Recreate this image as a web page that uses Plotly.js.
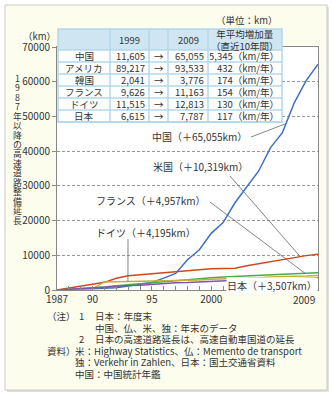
<!DOCTYPE html>
<html><head><meta charset="utf-8">
<script src="https://cdn.plot.ly/plotly-3.0.1.min.js"></script>
<style>html,body{margin:0;padding:0;background:#fff;} #chart{width:333px;height:396px;}</style>
</head><body><div id="chart"></div>
<script>
// ---------- data ----------
const years = [1987,1988,1989,1990,1991,1992,1993,1994,1995,1996,1997,1998,1999,2000,2001,2002,2003,2004,2005,2006,2007,2008,2009];
const china   = [0,147,271,522,574,652,1145,1603,2141,3422,4771,8733,11605,16314,19437,25130,29745,34288,41005,45339,53913,60302,65055];
const usa     = [0,500,1000,1500,2200,3400,4100,4400,4700,4900,5200,5600,6003,6100,6200,6300,7000,7600,8200,8900,9500,9900,10319];
const france  = [0,180,400,620,900,1250,1550,1800,2070,2450,2850,3150,3420,3560,3750,3940,4100,4250,4400,4550,4700,4850,4957];
const germany = [0,103,203,341,2337,2390,2420,2525,2572,2628,2691,2809,2897,3094,3168,3419,3426,3556,3745,3913,3976,4027,4195];
const japan   = [0,126,381,589,794,1124,1288,1397,1652,1834,2122,2175,2335,2571,2679,2916,3063,3083,3112,3151,3280,3362,3507];
const seriesNames = ['中国','米国','フランス','ドイツ','日本'];
const seriesColors = ['#3f70c3','#d2461d','#4fa84a','#c2b137','#7f53ae'];

const xTickLabels = {1987:'1987',1990:'90',1995:'95',2000:'2000',2009:'2009'};

const tableNames = ['中国','アメリカ','韓国','フランス','ドイツ','日本'];
const km1999 = [11605,89217,2041,9626,11515,6615];
const km2009 = [65055,93533,3776,11163,12813,7787];
const annualIncrease = [5345,432,174,154,130,117];
const tableHeader = ['', '1999', '', '2009', '年平均増加量<br>（直近10年間）'];

const yTitle = '1987年以降の高速道路整備延長';

// ---------- geometry helpers ----------
const PL=57, PR=318, PT=47, PB=290, TOP=29;
const fx = px => (px-PL)/(PR-PL);
const fy = py => (PB-py)/(PB-TOP);
const dX = px => 1987 + (px-PL)/(PR-PL)*22;
const dY = py => (PB-py)/(PB-PT)*70000;
const fmt = v => v.toLocaleString('en-US');
function interp(arr, yr){
  const i = Math.floor(yr-1987), f = yr-1987-i;
  return arr[i] + f*(arr[Math.min(i+1,arr.length-1)]-arr[i]);
}
const FONT = '"Noto Sans CJK JP", "Noto Sans", sans-serif';
const TXT = '#333';

const seriesData = [china, usa, france, germany, japan];
const traces = seriesData.map((d,i)=>({
  x: years, y: d, type:'scatter', mode:'lines', name: seriesNames[i],
  line:{color: seriesColors[i], width:1.5}, hoverinfo:'skip', showlegend:false
}));

const shapes = [];
const annotations = [];
// card
shapes.push({type:'rect', xref:'paper', yref:'paper', x0:fx(7), x1:fx(329), y0:fy(392), y1:fy(7), fillcolor:'#e2e2dc', line:{width:0}, layer:'below'});
shapes.push({type:'rect', xref:'paper', yref:'paper', x0:fx(5), x1:fx(327), y0:fy(390), y1:fy(5), fillcolor:'#fdfdee', line:{color:'#c9c9c0', width:1}, layer:'below'});
shapes.push({type:'rect', xref:'paper', yref:'paper', x0:0, x1:1, y0:0, y1:fy(PT), fillcolor:'#ffffff', line:{width:0}, layer:'below'});

// table
const TX0=58, TX1=282, TY0=29, TH=50, RH=12;
const TY1 = TH + RH*tableNames.length;
const colEdges=[TX0,110,149,168,208,TX1];
const BLUE='#b3d7ea';
shapes.push({type:'rect', xref:'paper', yref:'paper', x0:fx(TX0), x1:fx(TX1), y0:fy(TY1), y1:fy(TY0), fillcolor:'#ffffff', line:{width:0}, layer:'above'});
shapes.push({type:'rect', xref:'paper', yref:'paper', x0:fx(TX0), x1:fx(TX1), y0:fy(TH), y1:fy(TY0), fillcolor:'#cfe6f2', line:{width:0}, layer:'above'});
for(let k=1;k<colEdges.length-1;k++){
  shapes.push({type:'line', xref:'paper', yref:'paper', x0:fx(colEdges[k]), x1:fx(colEdges[k]), y0:fy(TY1), y1:fy(TY0), line:{color:BLUE,width:1.5}, layer:'above'});
}
for(let r=0;r<=tableNames.length;r++){
  const y = TH + RH*r;
  shapes.push({type:'line', xref:'paper', yref:'paper', x0:fx(TX0), x1:fx(TX1), y0:fy(y), y1:fy(y), line:{color:BLUE,width:1.5}, layer:'above'});
}
shapes.push({type:'rect', xref:'paper', yref:'paper', x0:fx(TX0), x1:fx(TX1), y0:fy(TY1), y1:fy(TY0), line:{color:BLUE,width:1.5}, layer:'above'});

function ann(text, px, py, xanchor, size, extra){
  annotations.push(Object.assign({text, xref:'paper', yref:'paper', x:fx(px), y:fy(py), xanchor:xanchor||'center', yanchor:'middle', showarrow:false, font:{family:FONT, size:size||9.5, color:TXT}}, extra||{}));
}
// header
ann(tableHeader[1], (colEdges[1]+colEdges[2])/2, (TY0+TH)/2, 'center', 9.5);
ann(tableHeader[3], (colEdges[3]+colEdges[4])/2, (TY0+TH)/2, 'center', 9.5);
ann(tableHeader[4], (colEdges[4]+colEdges[5])/2, (TY0+TH)/2, 'center', 9.5);
tableNames.forEach((n,r)=>{
  const yc = TH + RH*r + RH/2;
  ann(n, (colEdges[0]+colEdges[1])/2, yc, 'center', 9.5);
  ann(fmt(km1999[r]), colEdges[2]-2, yc, 'right', 9.5);
  ann('→', (colEdges[2]+colEdges[3])/2, yc, 'center', 9.5);
  ann(fmt(km2009[r]), colEdges[4]-2, yc, 'right', 9.5);
  ann(fmt(annualIncrease[r])+'（km/年）', colEdges[5]-1, yc, 'right', 9.5);
});
ann('（単位：km）', 280, 20, 'right', 9.5);
ann('（km）', 39, 36, 'center', 9.5);
// vertical y title (upright stacked characters)
Array.from(yTitle).forEach((ch,i)=>{
  ann(ch, 17.5, 78.3 + i*9.45, 'center', 8.8, {borderpad:0});
});

// series labels and leaders
const labels = [
  {s:0, right:249, y:136, from:[251,137], year:2006.3},
  {s:1, right:250, y:166, from:[230,176], year:2007.48},
  {s:2, right:208, y:200, from:[210,202], year:2007.9},
  {s:3, right:198, y:233, from:[128,239], year:1992.98},
];
labels.forEach(L=>{
  const d = seriesData[L.s];
  ann(seriesNames[L.s]+'（＋'+fmt(d[d.length-1])+'km）', L.right, L.y, 'right', 10);
  shapes.push({type:'line', xref:'x', yref:'y', x0:dX(L.from[0]), y0:dY(L.from[1]), x1:L.year, y1:interp(d, L.year), line:{color:'#666', width:0.8}, layer:'above'});
});
ann(seriesNames[4]+'（＋'+fmt(japan[japan.length-1])+'km）', 318, 285, 'right', 10, {bgcolor:'#ffffff', borderpad:0});

// last x tick label, right-aligned so it stays inside the card
annotations.push({text: xTickLabels[2009], xref:'x', x:2009, xanchor:'right', xshift:-1, yref:'paper', y:fy(299), yanchor:'middle', showarrow:false, font:{family:FONT, size:10, color:TXT}});

// notes
const noteLines = [
  [['（注）',45],['1',77],['日本：年度末',93]],
  [['中国、仏、米、独：年末のデータ',93]],
  [['2',77],['日本の高速道路延長は、高速自動車国道の延長',93]],
  [['資料）',45],['米：Highway Statistics、仏：Memento de transport',73]],
  [['独：Verkehr in Zahlen、日本：国土交通省資料',73]],
  [['中国：中国統計年鑑',73]],
];
noteLines.forEach((line,i)=>{
  line.forEach(([t,x])=> ann(t, x, 316 + i*11.6, 'left', 9.5));
});

const layout = {
  width:333, height:396,
  margin:{l:PL, r:333-PR, t:TOP, b:396-PB, pad:0},
  paper_bgcolor:'#ffffff', plot_bgcolor:'rgba(0,0,0,0)',
  font:{family:FONT, size:10, color:TXT},
  showlegend:false,
  xaxis:{
    range:[1987,2009], tickmode:'array', tickvals:years,
    ticktext: years.map(y=> (y===2009) ? '' : (xTickLabels[y] || '')),
    ticks:'inside', ticklen:4, tickcolor:'#888', tickwidth:1,
    showline:true, mirror:true, linecolor:'#888', linewidth:1,
    showgrid:false, zeroline:false, fixedrange:true,
    tickfont:{family:FONT, size:10, color:TXT}
  },
  yaxis:{
    domain:[0, fy(PT)], range:[0,70000], dtick:10000, tick0:0, tickformat:'d',
    ticks:'outside', ticklen:4, tickcolor:'#888',
    showline:true, mirror:true, linecolor:'#888', linewidth:1,
    showgrid:true, gridcolor:'#9a9a9a', griddash:'3px,2px', gridwidth:1,
    zeroline:false, fixedrange:true,
    tickfont:{family:FONT, size:10, color:TXT}
  },
  shapes, annotations
};
Plotly.newPlot('chart', traces, layout, {staticPlot:true, displayModeBar:false});
</script></body></html>
